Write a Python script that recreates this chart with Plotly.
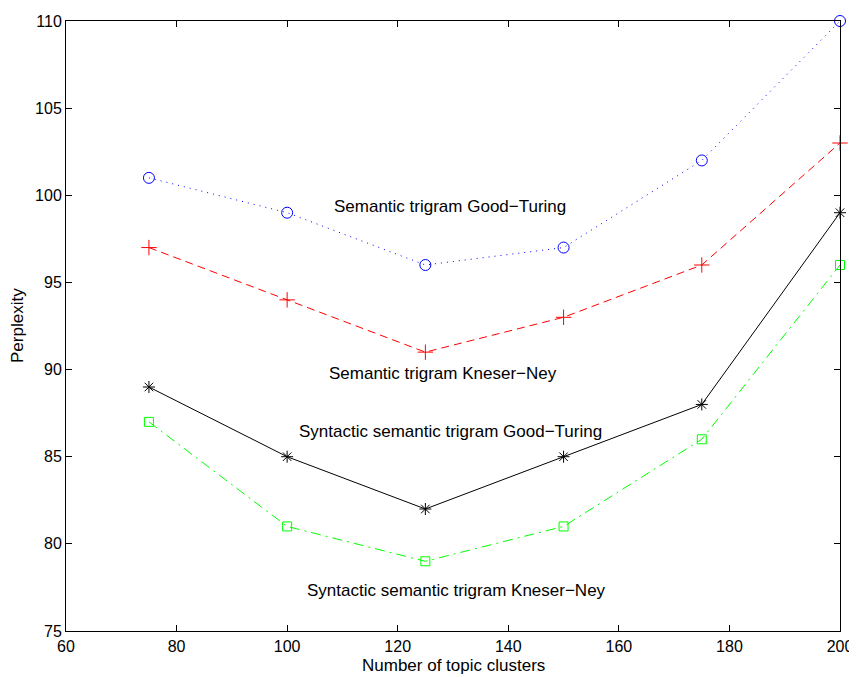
import plotly.graph_objects as go

clusters = [75, 100, 125, 150, 175, 200]
sem_gt = [101, 99, 96, 97, 102, 110]
sem_kn = [97, 94, 91, 93, 96, 103]
syn_gt = [89, 85, 82, 85, 88, 99]
syn_kn = [87, 81, 79, 81, 86, 96]

labels = ["Semantic trigram Good\u2212Turing", "Semantic trigram Kneser\u2212Ney",
          "Syntactic semantic trigram Good\u2212Turing", "Syntactic semantic trigram Kneser\u2212Ney"]
label_x = [129.5, 128.2, 129.5, 130.7]
label_y = [99.33, 89.75, 86.42, 77.35]

x_ticks = [60, 80, 100, 120, 140, 160, 180, 200]
y_ticks = [75, 80, 85, 90, 95, 100, 105, 110]

FONT = "Liberation Sans, Arial, Helvetica"
fig = go.Figure()
series = [
    (sem_gt, "blue", "1px,5px", "circle-open", 11),
    (sem_kn, "red", "8px,5px", "cross-thin-open", 11),
    (syn_gt, "black", "solid", "asterisk-open", 10),
    (syn_kn, "#00ff00", "10px,5px,2px,5px", "square-open", 9),
]
for ys, c, dash, sym, sz in series:
    fig.add_trace(go.Scatter(x=clusters, y=ys, mode="lines+markers",
                             line=dict(color=c, width=1, dash=dash),
                             marker=dict(symbol=sym, size=sz, color=c, line=dict(color=c, width=1)),
                             cliponaxis=False, showlegend=False))

for t, x, y in zip(labels, label_x, label_y):
    fig.add_annotation(x=x, y=y, text=t, showarrow=False, xref="x", yref="y",
                       font=dict(size=17, color="black", family=FONT))

fig.add_annotation(x=0.5, y=-0.057, xref="paper", yref="paper", yanchor="middle", text="Number of topic clusters",
                   showarrow=False, font=dict(size=17, color="black", family=FONT))
fig.add_annotation(x=-0.0633, y=0.5, xref="paper", yref="paper", xanchor="center", text="Perplexity", textangle=-90,
                   showarrow=False, font=dict(size=17, color="black", family=FONT))

axis_common = dict(showgrid=False, zeroline=False, showline=True, linecolor="black", linewidth=1,
                   mirror="ticks", ticks="inside", ticklen=6, tickcolor="black", automargin=False,
                   ticklabeloverflow="allow",
                   tickfont=dict(size=16, color="black", family=FONT))
fig.update_xaxes(range=[60, 200], tickvals=x_ticks, ticklabelstandoff=1, **axis_common)
fig.update_yaxes(range=[75, 110], tickvals=y_ticks, **axis_common)
fig.update_layout(width=849, height=669, margin=dict(l=58, r=17, t=13, b=46, autoexpand=False),
                  plot_bgcolor="white", paper_bgcolor="white",
                  font=dict(family=FONT, color="black", size=17))
fig.write_html("out.html")
